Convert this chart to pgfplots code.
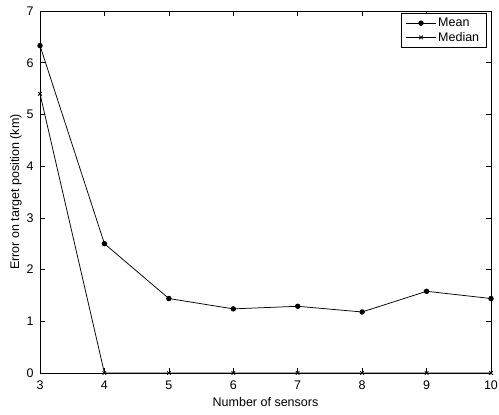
\documentclass[border=0pt]{standalone}
\usepackage{fontspec}
\setmainfont{Liberation Sans}
\usepackage{pgfplots}
\pgfplotsset{compat=1.18}
\usetikzlibrary{calc}
\begin{document}
\begin{tikzpicture}
\begin{axis}[
  name=ax,
  scale only axis,
  width=451pt, height=362pt,
  xmin=3, xmax=10, ymin=0, ymax=7,
  xtick={3,...,10}, ytick={0,...,7},
  tick align=inside,
  major tick length=5pt,
  tick style={black, line width=0.6pt},
  axis line style={line width=0.8pt},
  /pgf/number format/assume math mode=true,
  tick label style={font=\fontsize{12.5}{14}\selectfont},
  yticklabel style={xshift=-3pt},
  xticklabel style={yshift=-4pt},
  label style={font=\fontsize{12.5}{14}\selectfont},
  xlabel={Number of sensors},
  ylabel={Error on target position (km)},
  xlabel style={yshift=-1pt},
  ylabel style={yshift=-2pt},
  legend style={at={(0.99,0.995)}, anchor=north east, draw=black, line width=0.6pt,
    font=\fontsize{12.5}{14}\selectfont, inner xsep=5pt, inner ysep=3pt, row sep=0pt, cells={anchor=west}},
  legend cell align=left,
  legend image code/.code={%
    \draw[mark repeat=2,mark phase=2,#1] plot coordinates {(0cm,0cm) (0.52cm,0cm) (1.04cm,0cm)};},
]
\addplot[black, line width=0.75pt, mark=*, mark size=2.3pt] coordinates {
  (3,6.33) (4,2.50) (5,1.44) (6,1.24) (7,1.29) (8,1.18) (9,1.58) (10,1.44)
};
\addlegendentry{Mean}
\addplot[black, line width=0.75pt, mark=x, mark size=2.5pt] coordinates {
  (3,5.40) (4,0) (5,0) (6,0) (7,0) (8,0) (9,0) (10,0)
};
\addlegendentry{Median}
\end{axis}
\pgfresetboundingbox
\path[use as bounding box] ($(ax.south west)+(-40pt,-42pt)$) rectangle ($(ax.north east)+(8pt,11pt)$);
\end{tikzpicture}
\end{document}
